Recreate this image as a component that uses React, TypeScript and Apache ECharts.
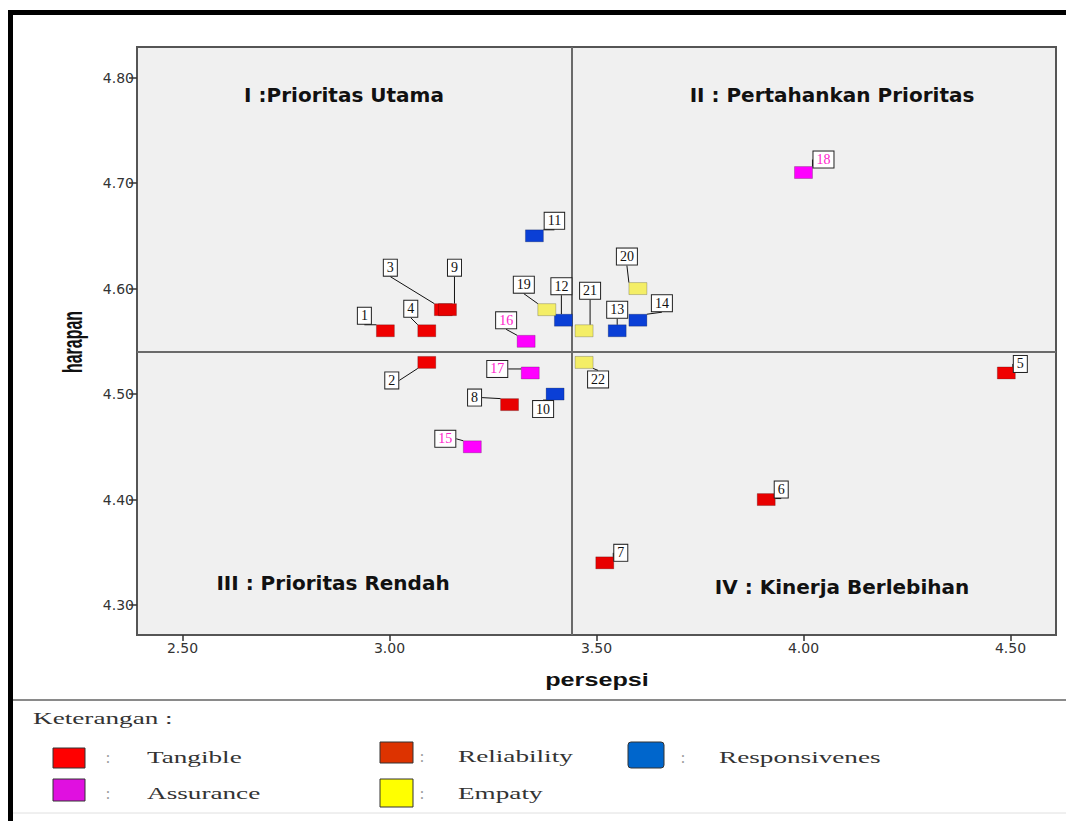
import React, { useEffect, useRef } from "react";
import * as echarts from "echarts";

// ---- Data ----
const tangibleIds = [1, 2, 3, 4, 5];
const tangiblePersepsi = [2.99, 3.09, 3.13, 3.09, 4.49];
const tangibleHarapan = [4.56, 4.53, 4.58, 4.56, 4.52];

const reliabilityIds = [6, 7, 8, 9];
const reliabilityPersepsi = [3.91, 3.52, 3.29, 3.14];
const reliabilityHarapan = [4.4, 4.34, 4.49, 4.58];

const responsivenessIds = [10, 11, 12, 13, 14];
const responsivenessPersepsi = [3.4, 3.35, 3.42, 3.55, 3.6];
const responsivenessHarapan = [4.5, 4.65, 4.57, 4.56, 4.57];

const assuranceIds = [15, 16, 17, 18];
const assurancePersepsi = [3.2, 3.33, 3.34, 4.0];
const assuranceHarapan = [4.45, 4.55, 4.52, 4.71];

const empathyIds = [19, 20, 21, 22];
const empathyPersepsi = [3.38, 3.6, 3.47, 3.47];
const empathyHarapan = [4.58, 4.6, 4.56, 4.53];

const xTicks = [2.5, 3.0, 3.5, 4.0, 4.5];
const yTicks = [4.3, 4.4, 4.5, 4.6, 4.7, 4.8];

const dimensionNames = ["Tangible", "Reliability", "Responsivenes", "Assurance", "Empaty"];
const quadrantLabels = [
  "I :Prioritas Utama",
  "II : Pertahankan Prioritas",
  "III : Prioritas Rendah",
  "IV : Kinerja Berlebihan",
];
const xAxisTitle = "persepsi";
const yAxisTitle = "harapan";
const legendTitle = "Keterangan :";

// ---- Styling ----
const markerColors = ["#f00000", "#e80000", "#0a3fd6", "#ff00ff", "#f4ee66"];
const legendColors = ["#ff0000", "#dd3300", "#0066cc", "#e010e0", "#ffff00"];
const labelTextColors = ["#111", "#111", "#111", "#ff22cc", "#111"];

// label offsets (px) of each numbered box relative to its marker
const labelOffsets: Record<number, [number, number]> = {
  1: [-21, -15], 2: [-35, 18], 3: [-53, -42], 4: [-16, -22], 5: [14, -9],
  6: [15, -10], 7: [16, -10], 8: [-35, -7], 9: [7, -42],
  10: [-12, 15], 11: [20, -15], 12: [-2, -34], 13: [0, -21], 14: [24, -17],
  15: [-27, -8], 16: [-20, -21], 17: [-33, -4], 18: [20, -13],
  19: [-23, -25], 20: [-11, -32], 21: [6, -40], 22: [14, 17],
};

const groups = [
  { ids: tangibleIds, x: tangiblePersepsi, y: tangibleHarapan },
  { ids: reliabilityIds, x: reliabilityPersepsi, y: reliabilityHarapan },
  { ids: responsivenessIds, x: responsivenessPersepsi, y: responsivenessHarapan },
  { ids: assuranceIds, x: assurancePersepsi, y: assuranceHarapan },
  { ids: empathyIds, x: empathyPersepsi, y: empathyHarapan },
];

const mean = (a: number[]) => a.reduce((s, v) => s + v, 0) / a.length;

export default function App() {
  const ref = useRef<HTMLDivElement>(null);

  useEffect(() => {
    if (!ref.current) return;
    const chart = echarts.init(ref.current, null, { renderer: "svg" });

    const allX = groups.flatMap((g) => g.x);
    const allY = groups.flatMap((g) => g.y);
    const meanX = mean(allX);
    const meanY = mean(allY);

    const series: any[] = groups.map((g, gi) => ({
      type: "scatter",
      name: dimensionNames[gi],
      symbol: "rect",
      symbolSize: [18, 12],
      z: 3,
      itemStyle: { color: markerColors[gi], borderColor: "rgba(0,0,0,0.35)", borderWidth: 0.6, opacity: 1 },
      data: g.ids.map((id, i) => ({ name: String(id), value: [g.x[i], g.y[i]] })),
      label: {
        show: true,
        position: "inside",
        formatter: "{b}",
        fontFamily: "Liberation Serif",
        fontSize: 14,
        lineHeight: 14,
        color: labelTextColors[gi],
        backgroundColor: "#ffffff",
        borderColor: "#222",
        borderWidth: 1,
        padding: [1, 3, 1, 3],
      },
      labelLine: { show: true, lineStyle: { color: "#111", width: 1 } },
      labelLayout: (p: any) => {
        const id = g.ids[p.dataIndex];
        const o = labelOffsets[id] || [0, 0];
        return { dx: o[0], dy: o[1] };
      },
      emphasis: { disabled: true },
      ...(gi === 0
        ? {
            markLine: {
              silent: true,
              symbol: "none",
              z: 1,
              label: { show: false },
              lineStyle: { color: "#6a6a6a", width: 2, type: "solid" },
              data: [{ xAxis: meanX }, { yAxis: meanY }],
            },
          }
        : {}),
    }));

    const textFont = "Liberation Serif";
    const legendItems = [
      { rect: [53, 748, 32, 20], colon: [108, 757], text: [147, 757] },
      { rect: [380, 742, 33, 21], colon: [422, 756], text: [458, 756] },
      { rect: [628, 742, 36, 26], colon: [683, 757], text: [719, 757] },
      { rect: [53, 779, 32, 22], colon: [108, 793], text: [147, 793] },
      { rect: [380, 779, 33, 28], colon: [422, 793], text: [458, 793] },
    ];

    const graphic: any[] = [
      // outer black frame
      {
        type: "rect",
        shape: { x: 10.5, y: 12.5, width: 1200, height: 1000 },
        style: { fill: "none", stroke: "#000", lineWidth: 5 },
        silent: true,
      },
      // legend separators
      { type: "line", shape: { x1: 13, y1: 700, x2: 1066, y2: 700 }, style: { stroke: "#8a8a8a", lineWidth: 2 }, silent: true },
      { type: "line", shape: { x1: 13, y1: 813, x2: 1066, y2: 813 }, style: { stroke: "#e0e0e0", lineWidth: 1 }, silent: true },
      // quadrant labels
      ...quadrantLabels.map((t, i) => {
        const pos = [
          [344, 95],
          [832, 95],
          [333, 583],
          [842, 587],
        ][i];
        return {
          type: "text",
          x: pos[0],
          y: pos[1],
          silent: true,
          z: 5,
          style: {
            text: t,
            fontFamily: "DejaVu Sans",
            fontWeight: "bold",
            fontSize: 20,
            fill: "#111",
            textAlign: "center",
            textVerticalAlign: "middle",
          },
        };
      }),
      // axis titles
      {
        type: "text",
        x: 597,
        y: 680,
        scaleX: 1.4,
        silent: true,
        style: {
          text: xAxisTitle,
          fontFamily: "Liberation Sans",
          fontWeight: "bold",
          fontSize: 18,
          fill: "#111",
          textAlign: "center",
          textVerticalAlign: "middle",
        },
      },
      {
        type: "text",
        x: 73,
        y: 342,
        rotation: Math.PI / 2,
        scaleY: 1.7,
        silent: true,
        style: {
          text: yAxisTitle,
          fontFamily: "Liberation Sans",
          fontWeight: "bold",
          fontSize: 16,
          fill: "#111",
          textAlign: "center",
          textVerticalAlign: "middle",
        },
      },
      // legend title
      {
        type: "text",
        x: 33,
        y: 718,
        scaleX: 1.6,
        silent: true,
        style: {
          text: legendTitle,
          fontFamily: textFont,
          fontSize: 17,
          fill: "#333",
          textAlign: "left",
          textVerticalAlign: "middle",
        },
      },
      ...legendItems.flatMap((it, i) => [
        {
          type: "rect",
          shape: { x: it.rect[0], y: it.rect[1], width: it.rect[2], height: it.rect[3], r: i === 2 ? 3 : 0 },
          style: { fill: legendColors[i], stroke: "#333", lineWidth: 1 },
          silent: true,
        },
        {
          type: "text",
          x: it.colon[0],
          y: it.colon[1],
          silent: true,
          style: { text: ":", fontFamily: textFont, fontSize: 16, fill: "#999", textAlign: "center", textVerticalAlign: "middle" },
        },
        {
          type: "text",
          x: it.text[0],
          y: it.text[1],
          scaleX: 1.6,
          silent: true,
          style: {
            text: dimensionNames[i],
            fontFamily: textFont,
            fontSize: 17,
            fill: "#333",
            textAlign: "left",
            textVerticalAlign: "middle",
          },
        },
      ]),
    ];

    chart.setOption({
      animation: false,
      backgroundColor: "#ffffff",
      grid: {
        left: 137,
        right: 10,
        top: 47,
        bottom: 186,
        show: true,
        backgroundColor: "#f0f0f0",
        borderColor: "#555",
        borderWidth: 2,
        containLabel: false,
        outerBoundsMode: "none",
      },
      xAxis: {
        type: "value",
        min: 2.39,
        max: 4.61,
        splitLine: { show: false },
        axisLine: { show: false },
        axisTick: { show: true, customValues: xTicks, length: 6, lineStyle: { color: "#333", width: 1.5 } },
        axisLabel: {
          customValues: xTicks,
          formatter: (v: number) => v.toFixed(2),
          fontFamily: "DejaVu Sans",
          fontSize: 14,
          color: "#333",
          margin: 6,
        },
      },
      yAxis: {
        type: "value",
        min: 4.2716,
        max: 4.829,
        splitLine: { show: false },
        axisLine: { show: false },
        axisTick: { show: true, customValues: yTicks, length: 8, lineStyle: { color: "#333", width: 1.5 } },
        axisLabel: {
          customValues: yTicks,
          formatter: (v: number) => v.toFixed(2),
          fontFamily: "DejaVu Sans",
          fontSize: 14,
          color: "#333",
          margin: 3,
        },
      },
      graphic,
      series,
    });

    return () => chart.dispose();
  }, []);

  return (
    <div
      ref={ref}
      style={{ position: "absolute", left: 0, top: 0, width: 1066, height: 821, background: "#fff" }}
    />
  );
}
